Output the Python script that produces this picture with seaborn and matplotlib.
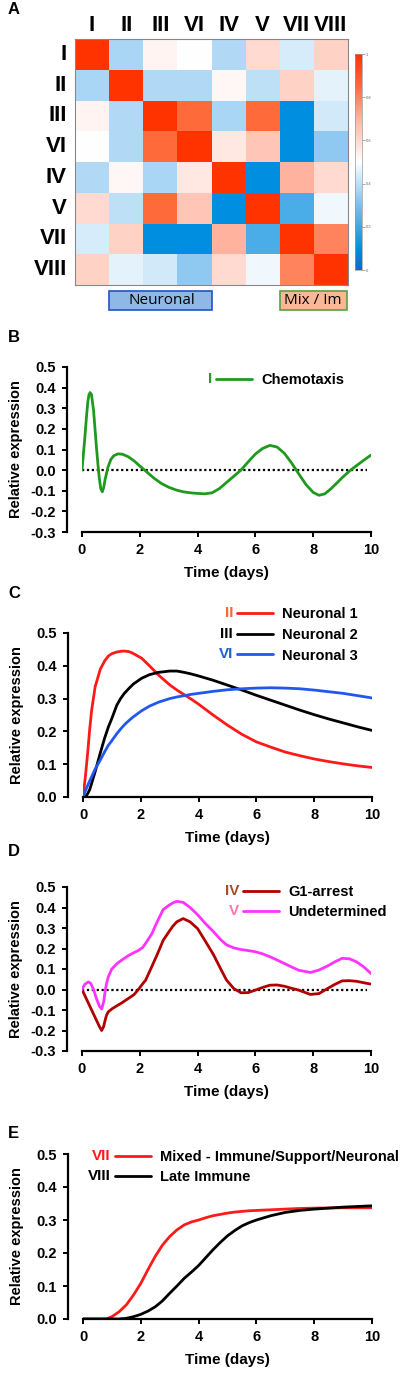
import matplotlib

matplotlib.use("Agg")

import numpy as np
import pandas as pd
import matplotlib.pyplot as plt
import seaborn as sns
from matplotlib.colors import LinearSegmentedColormap
from matplotlib.patches import Rectangle

# ------------------------------------------------------------------
# Data
# ------------------------------------------------------------------
clusters = ["I", "II", "III", "VI", "IV", "V", "VII", "VIII"]
corr_rows = [
    [1.00, 0.37, 0.53, 0.50, 0.38, 0.60, 0.44, 0.62],
    [0.37, 1.00, 0.38, 0.38, 0.52, 0.40, 0.62, 0.46],
    [0.53, 0.38, 1.00, 0.85, 0.37, 0.85, 0.10, 0.43],
    [0.50, 0.38, 0.85, 1.00, 0.56, 0.65, 0.10, 0.33],
    [0.38, 0.52, 0.37, 0.56, 1.00, 0.10, 0.70, 0.60],
    [0.60, 0.40, 0.85, 0.65, 0.10, 1.00, 0.22, 0.48],
    [0.44, 0.62, 0.10, 0.10, 0.70, 0.22, 1.00, 0.80],
    [0.62, 0.46, 0.43, 0.33, 0.60, 0.48, 0.80, 1.00],
]
cbar_ticks = [0, 0.2, 0.4, 0.6, 0.8, 1]

# Panel B - cluster I
t_b = [0, 0.05, 0.1, 0.15, 0.2, 0.24, 0.28, 0.33, 0.4, 0.45, 0.5, 0.55, 0.6,
       0.65, 0.7, 0.75, 0.8, 0.9, 1.0, 1.1, 1.25, 1.4, 1.6, 1.8, 2.0, 2.25,
       2.5, 2.75, 3.0, 3.25, 3.5, 3.75, 4.0, 4.25, 4.5, 4.75, 5.0, 5.25, 5.5,
       5.75, 6.0, 6.25, 6.5, 6.75, 7.0, 7.25, 7.5, 7.75, 8.0, 8.2, 8.4, 8.6,
       8.8, 9.0, 9.25, 9.5, 9.75, 10.0]
chemotaxis = [0, 0.08, 0.16, 0.25, 0.33, 0.365, 0.376, 0.365, 0.29, 0.2, 0.11,
              0.03, -0.04, -0.09, -0.105, -0.085, -0.045, 0.015, 0.052, 0.07,
              0.079, 0.077, 0.065, 0.045, 0.02, -0.01, -0.04, -0.065, -0.083,
              -0.096, -0.105, -0.11, -0.113, -0.115, -0.11, -0.09, -0.06,
              -0.03, 0.0, 0.04, 0.078, 0.105, 0.12, 0.112, 0.082, 0.035,
              -0.018, -0.07, -0.108, -0.122, -0.115, -0.092, -0.065, -0.037,
              -0.005, 0.022, 0.048, 0.073]

# Panel C - clusters II, III, VI
t_c = [0, 0.08, 0.16, 0.23, 0.3, 0.42, 0.6, 0.75, 0.88, 1.0, 1.17, 1.3, 1.43,
       1.6, 1.75, 2.03, 2.3, 2.61, 3.0, 3.25, 3.5, 3.75, 4.0, 4.5, 5.0, 5.5,
       6.0, 6.5, 7.0, 7.5, 8.0, 8.5, 9.0, 9.5, 10.0]
neuronal_1 = [0, 0.06, 0.133, 0.205, 0.265, 0.336, 0.39, 0.415, 0.43, 0.437,
              0.442, 0.444, 0.445, 0.443, 0.437, 0.423, 0.4, 0.372, 0.342,
              0.326, 0.312, 0.298, 0.283, 0.25, 0.219, 0.191, 0.168, 0.152,
              0.137, 0.126, 0.116, 0.108, 0.101, 0.095, 0.09]
neuronal_2 = [0, 0.0, 0.01, 0.022, 0.042, 0.077, 0.135, 0.18, 0.214, 0.24,
              0.28, 0.3, 0.316, 0.332, 0.345, 0.362, 0.373, 0.38, 0.384,
              0.384, 0.38, 0.375, 0.369, 0.356, 0.341, 0.326, 0.31, 0.295,
              0.28, 0.265, 0.251, 0.238, 0.226, 0.214, 0.203]
neuronal_3 = [0, 0.018, 0.035, 0.049, 0.062, 0.085, 0.113, 0.138, 0.158,
              0.172, 0.193, 0.207, 0.22, 0.234, 0.245, 0.263, 0.277, 0.289,
              0.3, 0.305, 0.309, 0.313, 0.316, 0.322, 0.327, 0.33, 0.332,
              0.333, 0.332, 0.33, 0.326, 0.321, 0.316, 0.309, 0.302]

# Panel D - clusters IV, V
t_d = [0, 0.1, 0.22, 0.3, 0.4, 0.5, 0.6, 0.68, 0.75, 0.8, 0.85, 0.91, 1.03,
       1.2, 1.37, 1.6, 1.8, 1.95, 2.1, 2.2, 2.41, 2.6, 2.81, 3.0, 3.15, 3.28,
       3.5, 3.74, 4.0, 4.25, 4.55, 4.8, 5.0, 5.25, 5.5, 5.75, 6.0, 6.25, 6.5,
       6.75, 7.0, 7.25, 7.5, 7.9, 8.2, 8.5, 8.75, 9.0, 9.25, 9.5, 9.75, 10.0]
g1_arrest = [0, -0.03, -0.066, -0.09, -0.12, -0.15, -0.18, -0.2, -0.18, -0.15,
             -0.125, -0.109, -0.095, -0.08, -0.066, -0.044, -0.025, 0.0,
             0.028, 0.045, 0.11, 0.17, 0.24, 0.28, 0.31, 0.33, 0.346, 0.33,
             0.297, 0.24, 0.17, 0.1, 0.046, 0.005, -0.016, -0.015, -0.003,
             0.01, 0.021, 0.022, 0.016, 0.006, -0.003, -0.024, -0.02, 0.005,
             0.025, 0.042, 0.043, 0.04, 0.033, 0.026]
undetermined = [0, 0.026, 0.037, 0.03, 0.0, -0.044, -0.081, -0.095, -0.06,
                -0.01, 0.03, 0.062, 0.1, 0.125, 0.143, 0.165, 0.18, 0.19,
                0.205, 0.225, 0.27, 0.33, 0.39, 0.41, 0.423, 0.43, 0.425,
                0.4, 0.365, 0.325, 0.282, 0.243, 0.218, 0.203, 0.195, 0.19,
                0.184, 0.174, 0.16, 0.144, 0.127, 0.11, 0.094, 0.083, 0.095,
                0.115, 0.135, 0.152, 0.15, 0.135, 0.11, 0.078]

# Panel E - clusters VII, VIII
t_e = [0, 0.5, 0.8, 1.0, 1.25, 1.5, 1.75, 2.0, 2.25, 2.5, 2.75, 3.0, 3.25,
       3.5, 3.75, 4.0, 4.25, 4.5, 4.75, 5.0, 5.25, 5.5, 5.75, 6.0, 6.5, 7.0,
       7.5, 8.0, 9.0, 10.0]
mixed = [0, 0, 0, 0.007, 0.022, 0.043, 0.073, 0.108, 0.15, 0.19, 0.224, 0.25,
         0.27, 0.285, 0.294, 0.3, 0.307, 0.313, 0.317, 0.321, 0.324, 0.326,
         0.328, 0.329, 0.331, 0.333, 0.335, 0.336, 0.337, 0.337]
late_immune = [0, 0, 0, 0, 0, 0.002, 0.007, 0.014, 0.024, 0.037, 0.055, 0.078,
               0.1, 0.123, 0.142, 0.162, 0.186, 0.21, 0.232, 0.252, 0.268,
               0.282, 0.292, 0.3, 0.313, 0.323, 0.329, 0.333, 0.339, 0.343]

FW, FH = 400, 1376  # figure size in px


def frac_rect(x0, y0, x1, y1):
    """pixel box (top-left origin) -> figure fraction rect"""
    return [x0 / FW, 1 - y1 / FH, (x1 - x0) / FW, (y1 - y0) / FH]


def style_line_axes(ax, ylim, yticks):
    ax.set_xlim(0, 10)
    ax.set_ylim(*ylim)
    ax.set_xticks([0, 2, 4, 6, 8, 10])
    ax.set_yticks(yticks)
    ax.set_yticklabels([f"{v:.1f}" for v in yticks])
    for side in ["top", "right"]:
        ax.spines[side].set_visible(False)
    ax.spines["left"].set_position(("outward", 11))
    for side in ["left", "bottom"]:
        ax.spines[side].set_linewidth(1.6)
        ax.spines[side].set_color("black")
    ax.tick_params(width=1.4, length=3.6, labelsize=10.5, pad=4,
                   colors="black")
    for lab in ax.get_xticklabels() + ax.get_yticklabels():
        lab.set_fontweight("bold")
    ax.set_xlabel("Time (days)", fontsize=11, fontweight="bold", labelpad=7,
                  color="black")
    ax.set_ylabel("Relative expression", fontsize=10.5, fontweight="bold",
                  color="black")
    ax.yaxis.set_label_coords(-0.205, 0.5)
    ax.grid(False)


def make_legend(ax, anchor_px, labelspacing=0.45):
    leg = ax.legend(
        loc="center left",
        bbox_to_anchor=(anchor_px[0] / FW, 1 - anchor_px[1] / FH),
        bbox_transform=fig.transFigure, frameon=False, handlelength=2.5,
        handletextpad=0.6, labelspacing=labelspacing, borderpad=0,
        borderaxespad=0, prop={"weight": "bold", "size": 10.5},
        labelcolor="black",
    )
    return leg


sns.set_theme(style="ticks")
plt.rcParams["font.family"] = ["Liberation Sans", "DejaVu Sans"]

fig = plt.figure(figsize=(FW / 100, FH / 100), dpi=100)

# ------------------------------------------------------------------
# Panel A: correlation heatmap
# ------------------------------------------------------------------
ax_hm = fig.add_axes(frac_rect(75, 39, 348, 285))
ax_cb = fig.add_axes(frac_rect(355, 54, 362, 270))
corr_df = pd.DataFrame(corr_rows, index=clusters, columns=clusters)
cmap = LinearSegmentedColormap.from_list(
    "bwr_custom",
    [(0.0, "#0a6ad0"), (0.1, "#0090e0"), (0.3, "#7cc0ee"), (0.5, "#ffffff"),
     (0.7, "#ffb4a0"), (0.85, "#ff6a3a"), (1.0, "#ff3300")],
)
sns.heatmap(corr_df, cmap=cmap, vmin=0, vmax=1, ax=ax_hm, cbar_ax=ax_cb,
            cbar_kws={"ticks": cbar_ticks})
ax_hm.xaxis.tick_top()
ax_hm.tick_params(length=0, labelsize=16, pad=2, labelcolor="black")
ax_hm.tick_params(axis="y", pad=6)
for lab in ax_hm.get_xticklabels() + ax_hm.get_yticklabels():
    lab.set_fontweight("bold")
    lab.set_rotation(0)
ax_hm.set_xlabel("")
ax_hm.set_ylabel("")
for sp in ax_hm.spines.values():
    sp.set_visible(True)
    sp.set_color("#888888")
    sp.set_linewidth(0.8)

cbar = ax_hm.collections[0].colorbar
cbar.outline.set_edgecolor("#999999")
cbar.outline.set_linewidth(0.5)
cbar.set_ticklabels(["0", "0.2", "0.4", "0.6", "0.8", "1"])
ax_cb.tick_params(labelsize=3, length=2, width=0.4, colors="#666666", pad=1)

# group boxes under the heatmap
ax_hm.add_patch(Rectangle((1, 8.2), 3, 0.6, facecolor="#8fb8e6",
                          edgecolor="#1f55c8", lw=1.2, clip_on=False))
ax_hm.text(2.55, 8.5, "Neuronal", ha="center", va="center", fontsize=11,
           family=["Open Sans", "DejaVu Sans"], color="black")
ax_hm.add_patch(Rectangle((6, 8.2), 1.97, 0.6, facecolor="#f8b898",
                          edgecolor="#5aa040", lw=1.2, clip_on=False))
ax_hm.text(6.98, 8.5, "Mix / Im", ha="center", va="center", fontsize=11,
           family=["Open Sans", "DejaVu Sans"], color="black")

# ------------------------------------------------------------------
# Panels B-E: expression over time
# ------------------------------------------------------------------
ax_b = fig.add_axes(frac_rect(82, 367, 371, 532))
ax_c = fig.add_axes(frac_rect(83, 633, 372, 797))
ax_d = fig.add_axes(frac_rect(82, 887, 371, 1051))
ax_e = fig.add_axes(frac_rect(83, 1154, 372, 1319))

lw = 2.0
dot_style = dict(colors="black", linestyles=(0, (1, 1.2)), lw=1.6)

# B
ax_b.hlines(0, 0, 9.85, **dot_style)
sns.lineplot(x=t_b, y=chemotaxis, ax=ax_b, color="#1f9a1f", lw=lw,
             label="Chemotaxis")
style_line_axes(ax_b, (-0.3, 0.5), [-0.3, -0.2, -0.1, 0.0, 0.1, 0.2, 0.3,
                                    0.4, 0.5])
leg_b = make_legend(ax_b, (216, 380))

# C
sns.lineplot(x=t_c, y=neuronal_1, ax=ax_c, color="#ff1a1a", lw=lw,
             label="Neuronal 1")
sns.lineplot(x=t_c, y=neuronal_2, ax=ax_c, color="black", lw=lw,
             label="Neuronal 2")
sns.lineplot(x=t_c, y=neuronal_3, ax=ax_c, color="#2257ee", lw=lw,
             label="Neuronal 3")
style_line_axes(ax_c, (0, 0.5), [0.0, 0.1, 0.2, 0.3, 0.4, 0.5])
leg_c = make_legend(ax_c, (237, 635))

# D
ax_d.hlines(0, 0, 9.85, **dot_style)
sns.lineplot(x=t_d, y=g1_arrest, ax=ax_d, color="#b00000", lw=lw,
             label="G1-arrest")
sns.lineplot(x=t_d, y=undetermined, ax=ax_d, color="#ff33ff", lw=lw,
             label="Undetermined")
style_line_axes(ax_d, (-0.3, 0.5), [-0.3, -0.2, -0.1, 0.0, 0.1, 0.2, 0.3,
                                    0.4, 0.5])
leg_d = make_legend(ax_d, (243, 902))

# E
sns.lineplot(x=t_e, y=mixed, ax=ax_e, color="#ff1a1a", lw=lw,
             label="Mixed - Immune/Support/Neuronal")
sns.lineplot(x=t_e, y=late_immune, ax=ax_e, color="black", lw=lw,
             label="Late Immune")
style_line_axes(ax_e, (0, 0.5), [0.0, 0.1, 0.2, 0.3, 0.4, 0.5])
leg_e = make_legend(ax_e, (115, 1167))

# roman numeral tags in front of each legend line
fig.canvas.draw()
renderer = fig.canvas.get_renderer()
tags = [
    (leg_b, ["I"], ["#2e9a2e"]),
    (leg_c, ["II", "III", "VI"], ["#f26a30", "black", "#1f5fd0"]),
    (leg_d, ["IV", "V"], ["#a0522d", "#ff77b0"]),
    (leg_e, ["VII", "VIII"], ["#ff1a1a", "black"]),
]
for leg, names, cols in tags:
    for line, name, col in zip(leg.get_lines(), names, cols):
        bb = line.get_window_extent(renderer)
        fig.text((bb.x0 - 4) / FW, (bb.y0 + bb.y1) / 2 / FH, name, color=col,
                 ha="right", va="center", fontsize=11, fontweight="bold")

# panel letters
for letter, ypx in [("A", 10), ("B", 338), ("C", 594), ("D", 852),
                    ("E", 1134)]:
    fig.text(8 / FW, 1 - ypx / FH, letter, fontsize=12, fontweight="bold",
             va="center", ha="left", color="black")

fig.savefig("out.png", dpi=100)
plt.close(fig)
